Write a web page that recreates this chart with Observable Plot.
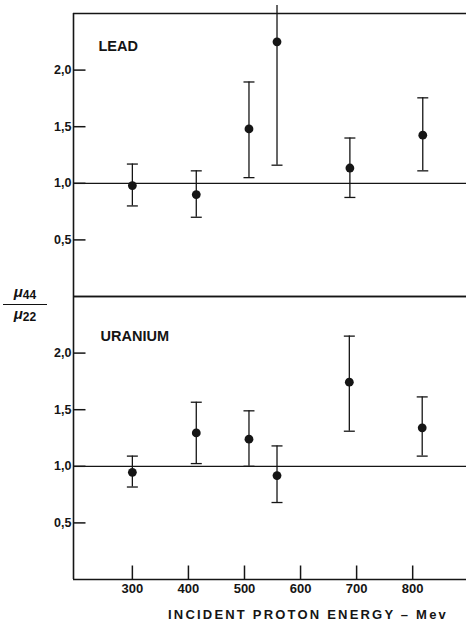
<!DOCTYPE html>
<html>
<head>
<meta charset="utf-8">
<script src="https://cdn.jsdelivr.net/npm/d3@7"></script>
<script src="https://cdn.jsdelivr.net/npm/@observablehq/plot@0.6"></script>
<style>
  html, body { margin: 0; padding: 0; background: #fff; }
  #wrap { position: relative; width: 466px; height: 623px; }
  #ylab { position: absolute; left: 3px; top: 284px; width: 44px; text-align: center;
          font-family: 'Liberation Sans', Arial, sans-serif; font-weight: bold; color: #111; font-size: 15px; line-height: 15px; }
  #ylab .num { border-bottom: 1.5px solid #111; padding-bottom: 1px; display: block; }
  #ylab .den { display: block; padding-top: 1px; }
  #ylab sub { font-size: 12px; vertical-align: -2px; }
</style>
</head>
<body>
<div id="wrap">
  <div id="ylab"><span class="num"><i>μ</i><sub>44</sub></span><span class="den"><i>μ</i><sub>22</sub></span></div>
</div>
<script>
// ---- data ----
const panels = ["LEAD", "URANIUM"];
const energy = {
  LEAD:    [300, 414, 508, 558, 688, 818],
  URANIUM: [300, 414, 508, 558, 687, 817]
};
const ratio = {
  LEAD:    [0.98, 0.90, 1.48, 2.25, 1.135, 1.425],
  URANIUM: [0.947, 1.295, 1.24, 0.918, 1.743, 1.34]
};
const errLow = {
  LEAD:    [0.80, 0.70, 1.05, 1.16, 0.875, 1.11],
  URANIUM: [0.817, 1.024, 1.00, 0.68, 1.31, 1.09]
};
const errHigh = {
  LEAD:    [1.17, 1.11, 1.895, 2.57, 1.40, 1.755],
  URANIUM: [1.09, 1.566, 1.49, 1.18, 2.15, 1.613]
};
const xTicks = [300, 400, 500, 600, 700, 800];
const yTicks = [0.5, 1.0, 1.5, 2.0];
const xDomain = [195, 896];
const yDomain = [0, 2.5];
const xLabel = "INCIDENT PROTON ENERGY – Mev";

// ---- build rows ----
const rows = panels.flatMap(p => energy[p].map((e, i) => ({
  panel: p, x: e, y: ratio[p][i], lo: errLow[p][i], hi: errHigh[p][i]
})));
const caps = rows.flatMap(r => {
  const c = [{panel: r.panel, x: r.x, y: r.lo}];
  if (r.hi <= yDomain[1]) c.push({panel: r.panel, x: r.x, y: r.hi});
  return c;
});

const ink = "#151515";
const capSymbol = {draw(ctx) { ctx.moveTo(-5.5, 0); ctx.lineTo(5.5, 0); }};
const yTickSymbol = {draw(ctx) { ctx.moveTo(0, 0); ctx.lineTo(12, 0); }};
const xTickSymbol = {draw(ctx) { ctx.moveTo(0, 0); ctx.lineTo(0, -14); }};
const fmt = d => d.toFixed(1).replace(".", ",");

const chart = Plot.plot({
  width: 466,
  height: 623,
  marginLeft: 73,
  marginRight: 0,
  marginTop: 13,
  marginBottom: 44,
  style: {fontFamily: "'Liberation Sans', Arial, sans-serif", color: ink, background: "#fff"},
  x: {domain: xDomain},
  y: {domain: yDomain},
  fy: {domain: panels, padding: 0, axis: null},
  marks: [
    // frame lines (top & bottom of each panel, left axis)
    Plot.ruleY(yDomain, {y: d => d, stroke: ink, strokeWidth: 1.6}),
    Plot.ruleX([xDomain[0]], {x: d => d, y1: yDomain[0], y2: yDomain[1], stroke: ink, strokeWidth: 1.6}),
    // reference line at 1
    Plot.ruleY([1], {y: d => d, stroke: ink, strokeWidth: 1.3}),
    // inward y ticks
    Plot.dot(yTicks, {x: () => xDomain[0], y: d => d, symbol: yTickSymbol, r: 4, fill: "none", stroke: ink, strokeWidth: 1.5}),
    // inward x ticks (bottom panel)
    Plot.dot(xTicks, {x: d => d, y: () => 0, fy: () => "URANIUM", symbol: xTickSymbol, r: 4, fill: "none", stroke: ink, strokeWidth: 1.5}),
    Plot.axisY({ticks: yTicks, tickSize: 0, tickPadding: 2, tickFormat: fmt, fontSize: 12.5, fontWeight: "bold", label: null}),
    Plot.axisX({ticks: xTicks, tickSize: 0, tickPadding: 4, tickFormat: d => String(d), fontSize: 13, fontWeight: "bold", label: null}),
    // error bars
    Plot.ruleX(rows, {x: "x", y1: "lo", y2: "hi", fy: "panel", stroke: ink, strokeWidth: 1.3}),
    Plot.dot(caps, {x: "x", y: "y", fy: "panel", symbol: capSymbol, r: 4, fill: "none", stroke: ink, strokeWidth: 1.3}),
    // points
    Plot.dot(rows, {x: "x", y: "y", fy: "panel", r: 4.4, fill: ink, stroke: "none"}),
    // panel labels
    Plot.text(["LEAD"], {fy: d => d, text: d => d, frameAnchor: "top-left", textAnchor: "start", lineAnchor: "top", dx: 25, dy: 27, fontSize: 14.5, fontWeight: "bold"}),
    Plot.text(["URANIUM"], {fy: d => d, text: d => d, frameAnchor: "top-left", textAnchor: "start", lineAnchor: "top", dx: 27, dy: 34, fontSize: 14.5, fontWeight: "bold"}),
    // x axis title
    Plot.text([xLabel], {fy: () => "URANIUM", text: d => d, frameAnchor: "bottom", lineAnchor: "middle", dx: 38, dy: 35, fontSize: 13, fontWeight: "bold"})
  ]
});

d3.select(chart).selectAll("text").filter(function() { return this.textContent === xLabel; })
  .style("letter-spacing", "2.2px");

document.getElementById("wrap").prepend(chart);
</script>
</body>
</html>
